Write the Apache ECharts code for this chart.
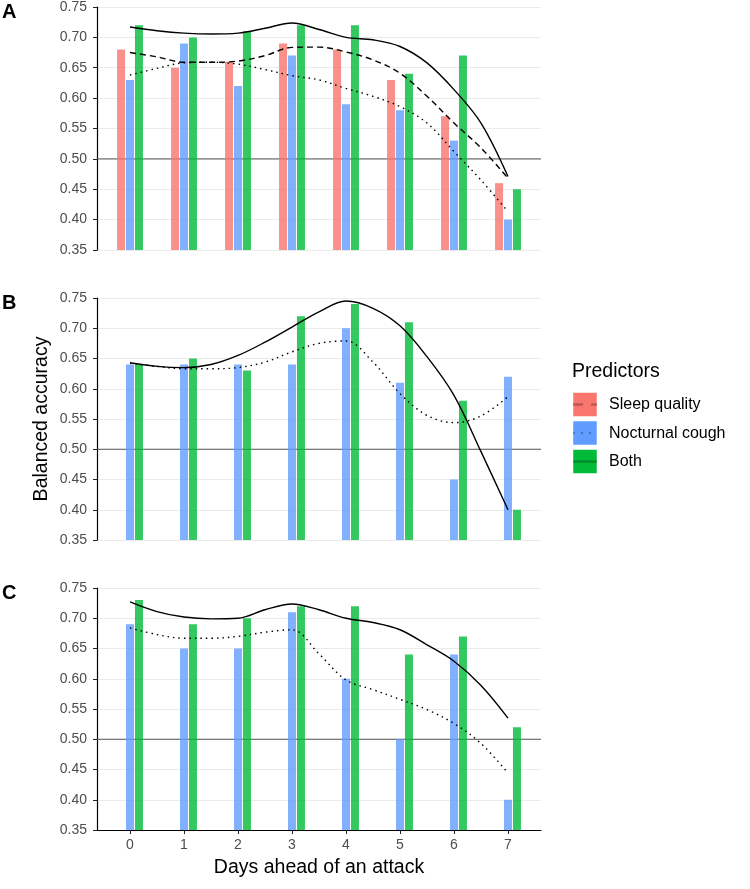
<!DOCTYPE html>
<html><head><meta charset="utf-8">
<script src="https://cdn.jsdelivr.net/npm/echarts@6/dist/echarts.min.js"></script>
<style>html,body{margin:0;padding:0;background:#fff}#c{width:750px;height:889px}</style>
</head><body><div id="c"></div>
<script>
// ---------- data ----------
const days = ['0','1','2','3','4','5','6','7'];
const seriesNames = ['Sleep quality','Nocturnal cough','Both'];
const panelLetters = ['A','B','C'];
const yMin = 0.35, yMax = 0.75, yStep = 0.05, refLine = 0.5;

// Panel A bars
const sleepA = [0.68,0.65,0.66,0.69,0.68,0.63,0.57,0.46];
const coughA = [0.63,0.69,0.62,0.67,0.59,0.58,0.53,0.40];
const bothA  = [0.72,0.70,0.71,0.72,0.72,0.64,0.67,0.45];
// Panel B bars
const coughB = [0.64,0.64,0.64,0.64,0.70,0.61,0.45,0.62];
const bothB  = [0.64,0.65,0.63,0.72,0.74,0.71,0.58,0.40];
// Panel C bars
const coughC = [0.69,0.65,0.65,0.71,0.60,0.50,0.64,0.40];
const bothC  = [0.73,0.69,0.70,0.72,0.72,0.64,0.67,0.52];

// smoothed curves at half-day steps
const fitX = [0,0.5,1,1.5,2,2.5,3,3.5,4,4.5,5,5.5,6,6.5,7];
const sleepFitA = [0.675,0.668,0.659,0.659,0.661,0.670,0.6835,0.684,0.676,0.663,0.641,0.603,0.559,0.518,0.468];
const coughFitA = [0.638,0.649,0.658,0.659,0.656,0.647,0.637,0.630,0.616,0.603,0.586,0.559,0.512,0.465,0.413];
const bothFitA  = [0.717,0.711,0.707,0.7055,0.707,0.715,0.7236,0.713,0.700,0.696,0.685,0.658,0.614,0.559,0.471];
const coughFitB = [0.642,0.637,0.633,0.633,0.635,0.644,0.661,0.675,0.679,0.644,0.592,0.556,0.544,0.555,0.587];
const bothFitB  = [0.643,0.637,0.635,0.640,0.655,0.677,0.702,0.727,0.745,0.733,0.704,0.653,0.589,0.496,0.400];
const coughFitC = [0.684,0.673,0.667,0.667,0.670,0.677,0.681,0.641,0.598,0.582,0.566,0.549,0.526,0.493,0.444];
const bothFitC  = [0.727,0.711,0.702,0.699,0.700,0.714,0.7235,0.714,0.700,0.693,0.681,0.656,0.629,0.589,0.535];

// ---------- styling ----------
const FONT = '"Liberation Sans", Arial, Helvetica, sans-serif';
const barColors = ['rgba(248,118,109,0.8)','rgba(97,156,255,0.8)','rgba(0,186,56,0.8)'];
const keyColors = ['#F8766D','#619CFF','#00BA38'];
const lineTypes = [[6,4],[1.5,4],'solid'];

const panels = [
  {top:7,   h:243, bars:[sleepA, coughA, bothA], fits:[sleepFitA, coughFitA, bothFitA]},
  {top:298, h:242, bars:[[], coughB, bothB],     fits:[null, coughFitB, bothFitB]},
  {top:588, h:242, bars:[[], coughC, bothC],     fits:[null, coughFitC, bothFitC]}
];

const grid = [], xAxis = [], yAxis = [], series = [];
panels.forEach((p, i) => {
  const last = i === panels.length - 1;
  grid.push({left:97, top:p.top, width:444, height:p.h});   // outer (axis frame)
  grid.push({left:103, top:p.top, width:432, height:p.h});  // inner (data band layout)
  const go = 2*i, gi = 2*i+1;
  // outer x (frame only)
  xAxis.push({type:'value', gridIndex:go, min:0, max:1, show:last,
    axisLine:{show:last, lineStyle:{color:'#000', width:1.2}}, axisTick:{show:false},
    axisLabel:{show:false}, splitLine:{show:false}});
  // inner category x (bars)
  xAxis.push({type:'category', gridIndex:gi, data:days, show:last, boundaryGap:true,
    axisLine:{show:false}, axisTick:{show:last, alignWithLabel:true, length:4, lineStyle:{color:'#222'}},
    axisLabel:{show:last, fontFamily:FONT, fontSize:14, color:'#4d4d4d', margin:8}, splitLine:{show:false}});
  // inner value x (smooth curves)
  xAxis.push({type:'value', gridIndex:gi, min:-0.5, max:7.5, show:false});
  // outer y
  yAxis.push({type:'value', gridIndex:go, min:yMin, max:yMax, interval:yStep,
    axisLine:{show:true, lineStyle:{color:'#000', width:1.2}},
    axisTick:{show:true, length:4, lineStyle:{color:'#222'}},
    axisLabel:{fontFamily:FONT, fontSize:14, color:'#4d4d4d', margin:10, formatter:v=>v.toFixed(2)},
    splitLine:{show:true, lineStyle:{color:'#ebebeb', width:1}}});
  // inner y
  yAxis.push({type:'value', gridIndex:gi, min:yMin, max:yMax, show:false, splitLine:{show:false}});

  // reference line at 0.5
  series.push({type:'line', xAxisIndex:3*i, yAxisIndex:go, data:[[0,refLine],[1,refLine]],
    symbol:'none', silent:true, z:1, lineStyle:{color:'#555', width:1}});
  // bars
  p.bars.forEach((vals, k) => {
    series.push({type:'bar', name:seriesNames[k], xAxisIndex:3*i+1, yAxisIndex:gi, data:vals,
      barWidth:8, barGap:'12%', z:2, silent:true, itemStyle:{color:barColors[k]}});
  });
  // smooth curves
  p.fits.forEach((vals, k) => {
    if (!vals) return;
    series.push({type:'line', name:seriesNames[k], xAxisIndex:3*i+2, yAxisIndex:gi,
      data:fitX.map((x, j) => [x, vals[j]]), smooth:0.35, symbol:'none', z:3, silent:true,
      lineStyle:{color:'#000', width:1.4, type:lineTypes[k]}});
  });
});

// ---------- annotations / legend ----------
const graphic = [];
panels.forEach((p, i) => {
  graphic.push({type:'text', left:2, top:p.top - 5,
    style:{text:panelLetters[i], font:'bold 20px ' + FONT, fill:'#000'}});
});
graphic.push({type:'text', x:42, y:419, rotation:Math.PI/2,
  style:{text:'Balanced accuracy', font:'19.5px ' + FONT, fill:'#000', textAlign:'center', textVerticalAlign:'middle'}});
graphic.push({type:'text', x:319, y:868,
  style:{text:'Days ahead of an attack', font:'19.5px ' + FONT, fill:'#000', textAlign:'center', textVerticalAlign:'middle'}});
graphic.push({type:'text', x:572, y:372,
  style:{text:'Predictors', font:'19.5px ' + FONT, fill:'#000', textAlign:'left', textVerticalAlign:'middle'}});
const keyTops = [392.5, 421, 449.5];
seriesNames.forEach((nm, k) => {
  graphic.push({type:'rect', shape:{x:573, y:keyTops[k], width:24, height:24},
    style:{fill:keyColors[k], stroke:'#fff', lineWidth:0.5}});
  graphic.push({type:'line', shape:{x1:573, y1:keyTops[k]+12, x2:597, y2:keyTops[k]+12},
    style:{stroke:'rgba(0,0,0,0.25)', lineWidth:2.5,
      lineDash: k===0 ? [10,8] : (k===1 ? [2,6] : null)}});
  graphic.push({type:'text', x:609, y:keyTops[k]+12.5,
    style:{text:nm, font:'16px ' + FONT, fill:'#000', textAlign:'left', textVerticalAlign:'middle'}});
});

const chart = echarts.init(document.getElementById('c'), null, {renderer:'canvas'});
chart.setOption({animation:false, backgroundColor:'#fff', grid, xAxis, yAxis, series, graphic});
</script></body></html>
